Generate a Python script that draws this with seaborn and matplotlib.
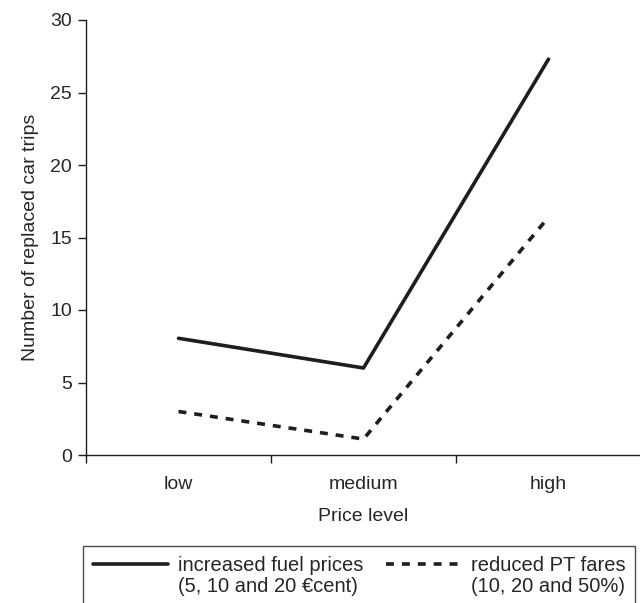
import numpy as np
import pandas as pd
import matplotlib
matplotlib.use("Agg")
import matplotlib.pyplot as plt
from matplotlib.lines import Line2D
import seaborn as sns

levels = ["low", "medium", "high"]
fuel_prices = [8.05, 6.0, 27.3]
pt_fares = [3.0, 1.1, 16.4]
fuel_label = ["increased fuel prices", "(5, 10 and 20 \u20accent)"]
pt_label = ["reduced PT fares", "(10, 20 and 50%)"]

df = pd.DataFrame({
    "level": levels * 2,
    "trips": fuel_prices + pt_fares,
    "scenario": ["fuel"] * 3 + ["pt"] * 3,
})

sns.set_style("ticks")
plt.rcParams["font.family"] = ["Liberation Sans", "DejaVu Sans"]
plt.rcParams["font.size"] = 14

fig = plt.figure(figsize=(6.4, 6.03), dpi=100)
ax = fig.add_axes([86 / 640, 1 - 455 / 603, 555 / 640, 435 / 603])

ink = "#1e1e1e"
sns.lineplot(data=df, x="level", y="trips", style="scenario",
             dashes={"fuel": "", "pt": (2.2, 2.2)}, color=ink,
             linewidth=2.6, legend=False, ax=ax)

ax.set_xlim(-0.5, 2.5)
ax.set_ylim(0, 30)
ax.set_yticks(np.arange(0, 31, 5))
ax.set_xticks([0, 1, 2])
ax.set_xticklabels(levels)
ax.set_xticks([-0.5, 0.5, 1.5, 2.5], minor=True)
ax.tick_params(axis="x", which="major", length=0, pad=15, labelsize=14)
ax.tick_params(axis="x", which="minor", length=6, width=1, color=ink)
ax.tick_params(axis="y", length=6, width=1, color=ink, labelsize=14, pad=4)
for s in ["top", "right"]:
    ax.spines[s].set_visible(False)
for s in ["left", "bottom"]:
    ax.spines[s].set_color(ink)
    ax.spines[s].set_linewidth(1)
ax.set_xlabel("Price level", fontsize=14, labelpad=11)
ax.set_ylabel("Number of replaced car trips", fontsize=14, labelpad=8)

# legend: first line with handle, second line with blank handle
blank = Line2D([], [], color="none")
handles = [Line2D([], [], color=ink, lw=2.6), blank,
           Line2D([], [], color=ink, lw=2.6, linestyle=(0, (2.2, 2.2))), blank]
labels = [fuel_label[0], fuel_label[1], pt_label[0], pt_label[1]]
leg = fig.legend(handles, labels, ncol=2, loc="upper left",
                 bbox_to_anchor=(83 / 640, 1 - 546 / 603),
                 frameon=True, fancybox=False, fontsize=14.5,
                 handlelength=3.7, handletextpad=0.5, labelspacing=0.12,
                 borderpad=0.5, borderaxespad=0, columnspacing=1.15)
leg.get_frame().set_edgecolor(ink)
leg.get_frame().set_linewidth(1)

fig.savefig("out.png", dpi=100)
